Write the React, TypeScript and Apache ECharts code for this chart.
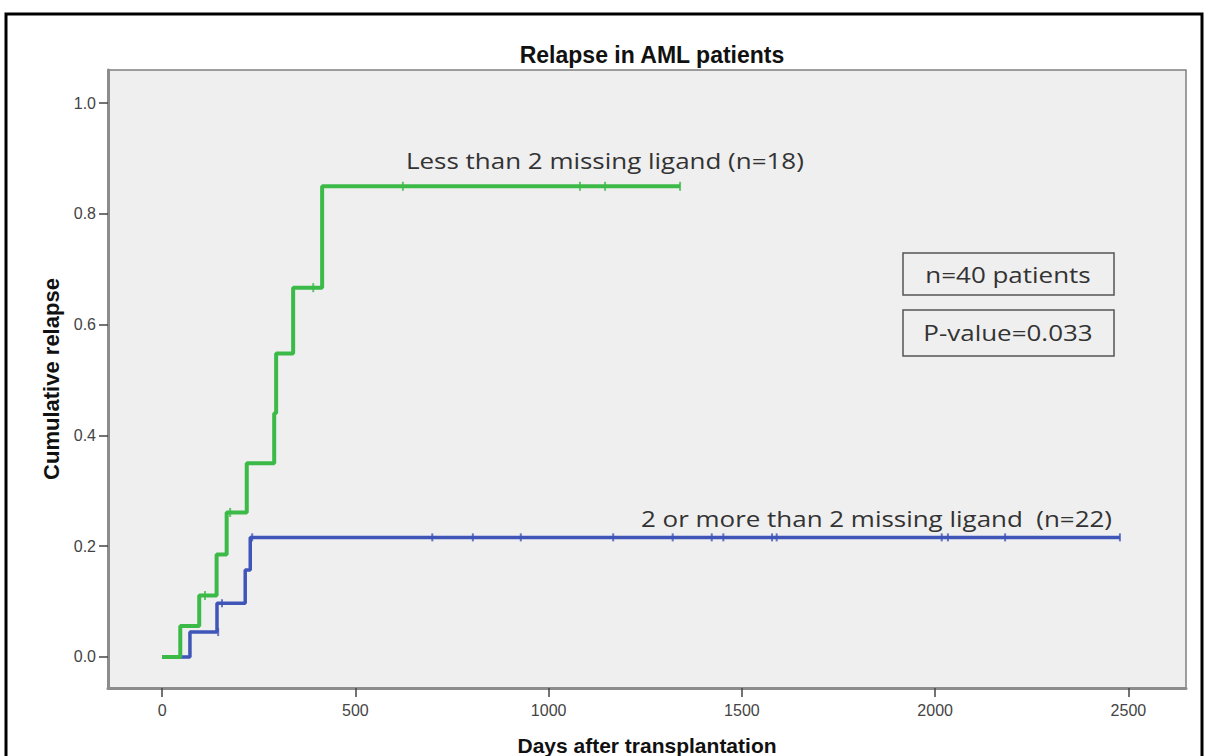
import React, { useEffect, useRef } from "react";
import * as echarts from "echarts";

const title = "Relapse in AML patients";
const xName = "Days after transplantation";
const yName = "Cumulative relapse";
const xTicks = [0, 500, 1000, 1500, 2000, 2500];
const yTicks = [0, 0.2, 0.4, 0.6, 0.8, 1.0];

const greenName = "Less than 2 missing ligand (n=18)";
const greenSteps: [number, number][] = [
  [0, 0], [47, 0.056], [96, 0.111], [141, 0.185], [167, 0.261], [219, 0.35],
  [290, 0.44], [295, 0.548], [339, 0.667], [414, 0.85], [1340, 0.85],
];
const greenCensor: [number, number][] = [
  [111, 0.111], [176, 0.261], [391, 0.667], [623, 0.85], [1081, 0.85], [1146, 0.85], [1340, 0.85],
];

const blueName = "2 or more than 2 missing ligand  (n=22)";
const blueSteps: [number, number][] = [
  [0, 0], [72, 0.045], [142, 0.097], [215, 0.157], [228, 0.216], [2478, 0.216],
];
const blueCensor: [number, number][] = [
  [145, 0.045], [155, 0.097], [233, 0.216], [699, 0.216], [804, 0.216], [928, 0.216],
  [1167, 0.216], [1321, 0.216], [1422, 0.216], [1452, 0.216], [1578, 0.216], [1590, 0.216],
  [2017, 0.216], [2033, 0.216], [2181, 0.216], [2478, 0.216],
];

const boxTexts = ["n=40 patients", "P-value=0.033"];

const GREEN = "#3cba48";
const BLUE = "#3f55b8";
const annoFont = "'Open Sans', 'Noto Sans', sans-serif";
const axisFont = "'Liberation Sans', Arial, sans-serif";
const annoScale = 1.18;

export default function App() {
  const ref = useRef<HTMLDivElement>(null);
  useEffect(() => {
    if (!ref.current) return;
    const chart = echarts.init(ref.current, undefined, { renderer: "svg" });
    const annoText = (text: string, x: number, y: number, align: string) => ({
      type: "text",
      x,
      y,
      scaleX: annoScale,
      style: {
        text,
        font: `22px ${annoFont}`,
        fill: "#333",
        textAlign: align,
        textVerticalAlign: "middle",
      },
      z: 50,
    });
    chart.setOption({
      animation: false,
      backgroundColor: "#ffffff",
      title: {
        text: title,
        left: 647,
        textAlign: "center",
        top: 38,
        textStyle: { fontFamily: axisFont, fontWeight: "bold", fontSize: 23, color: "#111" },
      },
      grid: {
        left: 108, right: 25, top: 70, bottom: 68,
        outerBoundsMode: "none",
        containLabel: false,
        show: true, backgroundColor: "#efefef", borderColor: "#808080", borderWidth: 1.5,
      },
      xAxis: {
        type: "value",
        min: -140,
        max: 2649,
        name: xName,
        nameLocation: "middle",
        nameGap: 47,
        nameTextStyle: { fontFamily: axisFont, fontWeight: "bold", fontSize: 21, color: "#111" },
        axisLine: { show: true, onZero: false, lineStyle: { color: "#8c8c8c", width: 3 } },
        axisTick: { show: true, customValues: xTicks, length: 9, lineStyle: { color: "#444", width: 1.5 } },
        axisLabel: {
          customValues: xTicks, fontFamily: axisFont, fontSize: 16, color: "#444", margin: 14,
          formatter: (v: number) => String(v),
        },
        splitLine: { show: false },
      },
      yAxis: {
        type: "value",
        min: -0.056,
        max: 1.06,
        name: yName,
        nameLocation: "middle",
        nameGap: 44,
        nameRotate: 90,
        nameTextStyle: { fontFamily: axisFont, fontWeight: "bold", fontSize: 22, color: "#111" },
        axisLine: { show: true, onZero: false, lineStyle: { color: "#8c8c8c", width: 3 } },
        axisTick: { show: true, customValues: yTicks, length: 9, lineStyle: { color: "#444", width: 1.5 } },
        axisLabel: {
          customValues: yTicks, fontFamily: axisFont, fontSize: 16, color: "#444", margin: 12,
          formatter: (v: number) => v.toFixed(1),
        },
        splitLine: { show: false },
      },
      series: [
        {
          name: blueName, type: "line", step: "end", data: blueSteps, symbol: "none",
          lineStyle: { color: BLUE, width: 3.5 }, z: 3,
        },
        {
          name: blueName + " censored", type: "scatter", data: blueCensor,
          symbol: "rect", symbolSize: [2, 8], itemStyle: { color: BLUE }, z: 4,
        },
        {
          name: greenName, type: "line", step: "end", data: greenSteps, symbol: "none",
          lineStyle: { color: GREEN, width: 4 }, z: 5,
        },
        {
          name: greenName + " censored", type: "scatter", data: greenCensor,
          symbol: "rect", symbolSize: [2, 9], itemStyle: { color: GREEN }, z: 6,
        },
      ],
      graphic: [
        {
          type: "rect", shape: { x: 6, y: 14, width: 1196, height: 780 },
          style: { fill: "none", stroke: "#000", lineWidth: 3 }, z: 100, silent: true,
        },
        annoText(greenName, 406, 160, "left"),
        annoText(blueName, 641, 518, "left"),
        {
          type: "rect", shape: { x: 903, y: 253, width: 211, height: 42 },
          style: { fill: "#efefef", stroke: "#555", lineWidth: 1.5 }, z: 40,
        },
        annoText(boxTexts[0], 1008, 274, "center"),
        {
          type: "rect", shape: { x: 903, y: 310, width: 211, height: 46 },
          style: { fill: "#efefef", stroke: "#555", lineWidth: 1.5 }, z: 40,
        },
        annoText(boxTexts[1], 1008, 332, "center"),
      ],
    });
    return () => chart.dispose();
  }, []);
  return (
    <div
      ref={ref}
      style={{ position: "fixed", left: 0, top: 0, width: 1211, height: 756 }}
    />
  );
}
